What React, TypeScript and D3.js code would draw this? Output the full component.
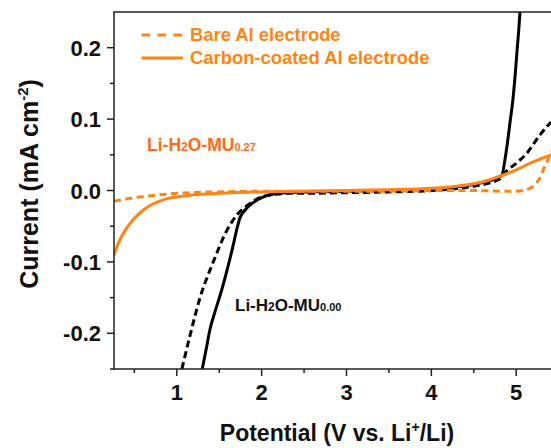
import React from 'react';
import * as d3 from 'd3';

const W = 551;
const H = 448;

// axes
const xDomain = [0.26, 5.41];
const yDomain = [-0.25, 0.25];
const xTicks = [1, 2, 3, 4, 5];
const xMinorTicks = [0.5, 1.5, 2.5, 3.5, 4.5];
const yTicks = [-0.2, -0.1, 0.0, 0.1, 0.2];
const yMinorTicks = [-0.25, -0.15, -0.05, 0.05, 0.15];
const legendLabels = ['Bare Al electrode', 'Carbon-coated Al electrode'];

// Carbon-coated Al, Li-H2O-MU0.27 (orange solid)
const carbonMU027V = [0.26, 0.3, 0.35, 0.4, 0.45, 0.5, 0.6, 0.7, 0.8, 0.9, 1.0, 1.2, 1.5, 2.0, 2.5, 3.0, 3.5, 4.0, 4.3, 4.6, 4.83, 5.0, 5.2, 5.41];
const carbonMU027I = [-0.091, -0.077, -0.064, -0.054, -0.046, -0.039, -0.028, -0.02, -0.015, -0.011, -0.009, -0.006, -0.004, -0.002, -0.001, 0.0, 0.001, 0.003, 0.006, 0.012, 0.021, 0.029, 0.04, 0.05];

// Bare Al, Li-H2O-MU0.27 (orange dashed)
const bareMU027V = [0.26, 0.5, 0.8, 1.0, 1.5, 2.0, 2.5, 3.0, 3.5, 4.0, 4.5, 4.8, 5.0, 5.16, 5.22, 5.28, 5.33, 5.38, 5.42];
const bareMU027I = [-0.015, -0.01, -0.006, -0.004, -0.002, -0.001, -0.001, -0.001, -0.001, 0.0, 0.0, -0.001, -0.001, 0.003, 0.008, 0.018, 0.032, 0.045, 0.056];

// Carbon-coated Al, Li-H2O-MU0.00 (black solid)
const carbonMU000V = [1.3, 1.35, 1.39, 1.45, 1.53, 1.6, 1.66, 1.7, 1.745, 1.8, 1.9, 2.0, 2.1, 2.2, 2.3, 2.5, 3.0, 3.5, 4.0, 4.3, 4.6, 4.83, 4.87, 4.9, 4.93, 4.96, 4.99, 5.01, 5.03, 5.05];
const carbonMU000I = [-0.25, -0.22, -0.195, -0.17, -0.139, -0.108, -0.079, -0.058, -0.038, -0.028, -0.017, -0.01, -0.006, -0.004, -0.003, -0.002, -0.001, 0.0, 0.002, 0.005, 0.011, 0.021, 0.045, 0.07, 0.098, 0.126, 0.165, 0.196, 0.225, 0.26];

// Bare Al, Li-H2O-MU0.00 (black dashed)
const bareMU000V = [1.06, 1.156, 1.274, 1.43, 1.59, 1.71, 1.8, 1.9, 2.0, 2.1, 2.2, 2.3, 2.5, 3.0, 3.5, 4.0, 4.5, 4.8, 4.9, 5.0, 5.13, 5.28, 5.41];
const bareMU000I = [-0.25, -0.203, -0.15, -0.1, -0.056, -0.034, -0.024, -0.015, -0.009, -0.006, -0.005, -0.004, -0.004, -0.003, -0.002, 0.0, 0.006, 0.016, 0.029, 0.038, 0.053, 0.078, 0.096];

const ORANGE = '#ff8412';
const LABEL_ORANGE = '#ff6a14';
const FONT = '"Liberation Sans", Arial, Helvetica, sans-serif';

const left = 114;
const right = 551;
const top = 12;
const bottom = 369;

export default function App() {
  const x = d3.scaleLinear().domain(xDomain).range([left, right]);
  const y = d3.scaleLinear().domain(yDomain).range([bottom, top]);
  const line = d3
    .line<[number, number]>()
    .x((d) => x(d[0]))
    .y((d) => y(d[1]))
    .curve(d3.curveMonotoneX);
  const pts = (vs: number[], is: number[]) => vs.map((v, i) => [v, is[i]] as [number, number]);

  const series = [
    { v: bareMU000V, i: bareMU000I, color: '#000', dash: '7,4' },
    { v: carbonMU000V, i: carbonMU000I, color: '#000', dash: null },
    { v: bareMU027V, i: bareMU027I, color: ORANGE, dash: '7,4.5' },
    { v: carbonMU027V, i: carbonMU027I, color: ORANGE, dash: null },
  ];

  return (
    <svg width={W} height={H} style={{ position: 'absolute', left: 0, top: 0, background: '#fff' }} fontFamily={FONT}>
      <defs>
        <clipPath id="plot">
          <rect x={left} y={top} width={right - left + 10} height={bottom - top} />
        </clipPath>
      </defs>
      <rect x={0} y={0} width={W} height={H} fill="#fff" />

      <g clipPath="url(#plot)">
        {series.map((s, k) => (
          <path
            key={k}
            d={line(pts(s.v, s.i)) || ''}
            fill="none"
            stroke={s.color}
            strokeWidth={3}
            strokeDasharray={s.dash || undefined}
            strokeLinejoin="round"
          />
        ))}
      </g>

      {/* axes */}
      <line x1={left} x2={left} y1={top} y2={bottom + 0.75} stroke="#222" strokeWidth={1.5} />
      <line x1={left - 0.75} x2={W} y1={bottom} y2={bottom} stroke="#222" strokeWidth={1.5} />
      <line x1={left - 0.75} x2={W} y1={top} y2={top} stroke="#222" strokeWidth={1.5} />

      {yTicks.map((t) => (
        <g key={'yt' + t}>
          <line x1={left - 7} x2={left} y1={y(t)} y2={y(t)} stroke="#222" strokeWidth={1.5} />
          <text x={left - 13} y={y(t) + 8} textAnchor="end" fontSize={22} fontWeight="bold" fill="#111">
            {t === 0 ? '0.0' : d3.format('.1f')(t).replace('−', '-')}
          </text>
        </g>
      ))}
      {yMinorTicks.map((t) => (
        <line key={'ym' + t} x1={left - 4} x2={left} y1={y(t)} y2={y(t)} stroke="#222" strokeWidth={1.5} />
      ))}
      {xTicks.map((t) => (
        <g key={'xt' + t}>
          <line x1={x(t)} x2={x(t)} y1={bottom} y2={bottom + 7} stroke="#222" strokeWidth={1.5} />
          <text x={x(t)} y={bottom + 31} textAnchor="middle" fontSize={22} fontWeight="bold" fill="#111">
            {t}
          </text>
        </g>
      ))}
      {xMinorTicks.map((t) => (
        <line key={'xm' + t} x1={x(t)} x2={x(t)} y1={bottom} y2={bottom + 4} stroke="#222" strokeWidth={1.5} />
      ))}

      {/* axis titles */}
      <text x={337} y={441} textAnchor="middle" fontSize={23} fontWeight="bold" fill="#111">
        Potential (V vs. Li
        <tspan fontSize={14} dy={-9}>+</tspan>
        <tspan dy={9}>/Li)</tspan>
      </text>
      <text transform="translate(38,184) rotate(-90)" textAnchor="middle" fontSize={25} fontWeight="bold" fill="#111">
        Current (mA cm
        <tspan fontSize={15} dy={-10}>-2</tspan>
        <tspan dy={10}>)</tspan>
      </text>

      {/* legend */}
      <line x1={141.5} x2={183} y1={35} y2={35} stroke={ORANGE} strokeWidth={3} strokeDasharray="8.5,7.5" />
      <text x={190} y={35} dy="0.35em" fontSize={18.4} fontWeight="bold" fill={ORANGE}>
        {legendLabels[0]}
      </text>
      <line x1={141.5} x2={183} y1={58} y2={58} stroke={ORANGE} strokeWidth={3} />
      <text x={190} y={58} dy="0.35em" fontSize={18.4} fontWeight="bold" fill={ORANGE}>
        {legendLabels[1]}
      </text>

      {/* annotations */}
      <text x={147} y={151} fontSize={17.5} fontWeight="bold" fill={LABEL_ORANGE}>
        Li-H<tspan fontSize={12}>2</tspan>O-MU<tspan fontSize={11}>0.27</tspan>
      </text>
      <text x={235} y={311} fontSize={17} fontWeight="bold" fill="#111">
        Li-H<tspan fontSize={12}>2</tspan>O-MU<tspan fontSize={11}>0.00</tspan>
      </text>
    </svg>
  );
}
